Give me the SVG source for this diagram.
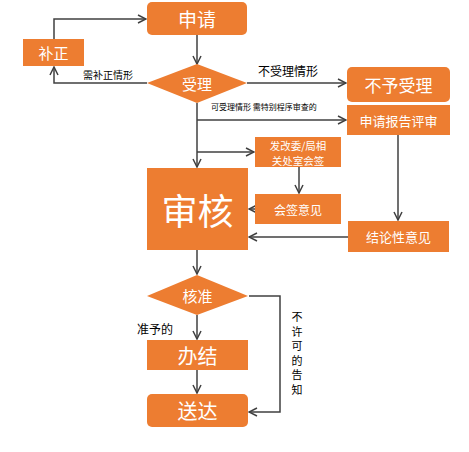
<svg xmlns="http://www.w3.org/2000/svg" width="469" height="452" viewBox="0 0 469 452">
<defs>
<marker id="arr" viewBox="0 0 10 10" refX="9" refY="5" markerWidth="10" markerHeight="10" markerUnits="userSpaceOnUse" orient="auto">
<path d="M1,1 L9,5 L1,9" fill="none" stroke="#404040" stroke-width="1.5"/>
</marker>
<style>
.n{fill:#ED7D31}
.t{fill:#fff;font-family:"Noto Sans CJK SC","Noto Sans",sans-serif;text-anchor:middle;dominant-baseline:central}
.l{fill:#000;font-family:"Noto Sans CJK SC","Noto Sans",sans-serif}
.v{fill:#000;font-family:"Noto Sans CJK SC","Noto Sans",sans-serif;font-size:11px;text-anchor:middle;dominant-baseline:central}
.c{fill:none;stroke:#404040;stroke-width:1.5;marker-end:url(#arr)}
</style>
</defs>
<rect width="469" height="452" fill="#fff"/>
<g id="connectors">
<path class="c" d="M54,39 V19 H146"/>
<path class="c" d="M197,35 V64"/>
<path class="c" d="M147,83 H54 V67"/>
<path class="c" d="M247,83 H346"/>
<path class="c" d="M197,103 V167"/>
<path class="c" d="M197,120 H346"/>
<path class="c" d="M197,152 H254"/>
<path class="c" d="M299,167 V193"/>
<path class="c" d="M255,209 H249"/>
<path class="c" d="M398,135 V220"/>
<path class="c" d="M348,237 H249"/>
<path class="c" d="M197,250 V274"/>
<path class="c" d="M197,315 V339"/>
<path class="c" d="M197,370 V393"/>
<path class="c" d="M249,296 H280 V412 H249"/>
<text class="l" x="83" y="79" font-size="10">需补正情形</text>
<text class="l" x="258" y="76" font-size="12">不受理情形</text>
<text class="l" x="211" y="110" font-size="8">可受理情形 需特别程序审查的</text>
<text class="l" x="137" y="334" font-size="12">准予的</text>
<text class="v" x="297" y="316">不</text>
<text class="v" x="297" y="330.5">许</text>
<text class="v" x="297" y="345">可</text>
<text class="v" x="297" y="359.5">的</text>
<text class="v" x="297" y="374">告</text>
<text class="v" x="297" y="388.5">知</text>
</g>
<g id="shenqing"><rect class="n" x="147" y="2" width="100" height="33" rx="5"/><text class="t" x="197" y="18.5" font-size="19">申请</text></g>
<g id="buzheng"><rect class="n" x="23" y="39" width="61" height="27"/><text class="t" x="53.5" y="52.5" font-size="15">补正</text></g>
<g id="shouli"><polygon class="n" points="147,83 197,64 247,83 197,103"/><text class="t" x="197" y="83" font-size="15">受理</text></g>
<g id="buyushouli"><rect class="n" x="347" y="67" width="103" height="35" rx="5"/><text class="t" x="398.5" y="84.5" font-size="17">不予受理</text></g>
<g id="pingshen"><rect class="n" x="347" y="105" width="103" height="30"/><text class="t" x="398.5" y="120" font-size="13">申请报告评审</text></g>
<g id="huiqian"><rect class="n" x="255" y="137" width="86" height="30"/><text class="t" x="298" y="145" font-size="10.5">发改委/局相</text><text class="t" x="298" y="160" font-size="10.5">关处室会签</text></g>
<g id="huiqianyijian"><rect class="n" x="255" y="194" width="86" height="30"/><text class="t" x="298" y="209" font-size="12">会签意见</text></g>
<g id="shenhe"><rect class="n" x="147" y="168" width="101" height="82"/><text class="t" x="197.5" y="209" font-size="36">审核</text></g>
<g id="jielun"><rect class="n" x="348" y="221" width="101" height="31"/><text class="t" x="398.5" y="236.5" font-size="13">结论性意见</text></g>
<g id="hezhun"><polygon class="n" points="147,296 197,275 248,296 197,315"/><text class="t" x="197.5" y="295.5" font-size="15">核准</text></g>
<g id="banjie"><rect class="n" x="147" y="340" width="101" height="30"/><text class="t" x="197.5" y="355" font-size="20">办结</text></g>
<g id="songda"><rect class="n" x="147" y="394" width="101" height="33" rx="5"/><text class="t" x="197.5" y="410.5" font-size="20">送达</text></g>
</svg>
